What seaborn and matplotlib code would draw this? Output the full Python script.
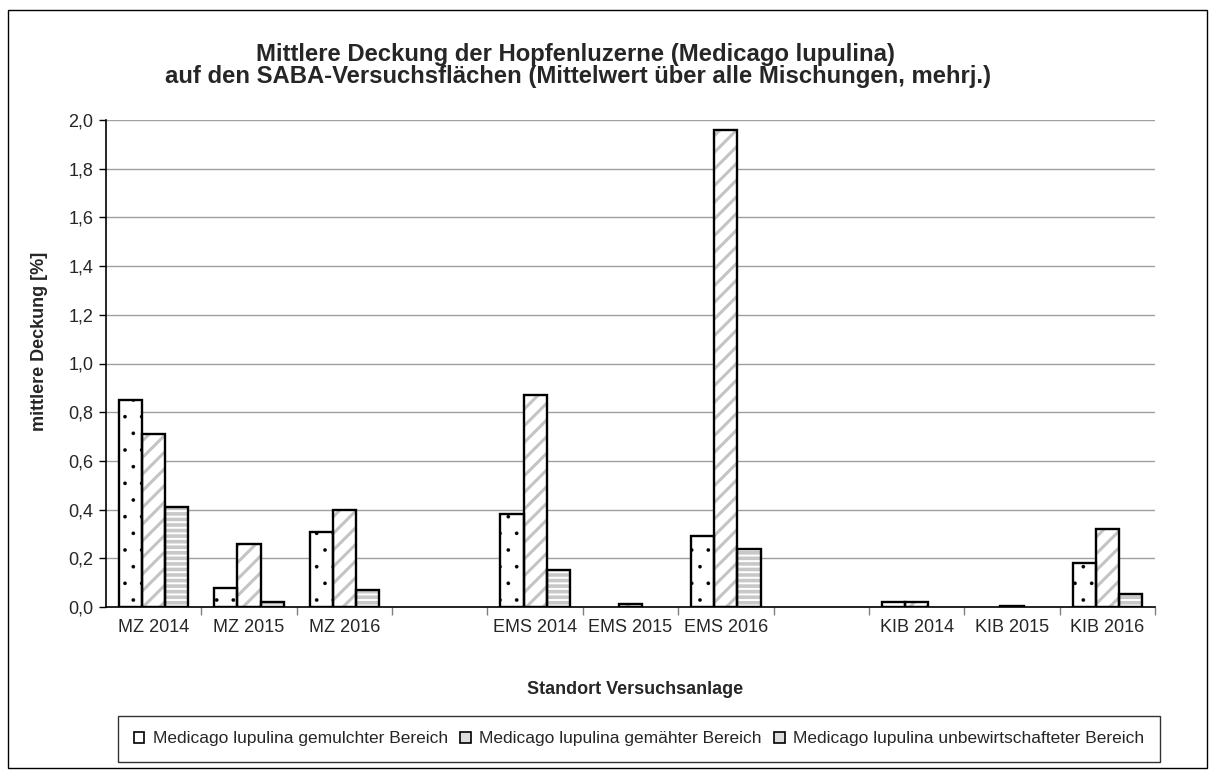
import matplotlib
matplotlib.use("Agg")
import matplotlib.pyplot as plt
import matplotlib.patches as mpatches
from matplotlib.ticker import FuncFormatter, FixedLocator
import seaborn as sns
import pandas as pd

# Daten
standorte = ["MZ 2014", "MZ 2015", "MZ 2016", " ", "EMS 2014", "EMS 2015", "EMS 2016",
             "  ", "KIB 2014", "KIB 2015", "KIB 2016"]
bereiche = ["Medicago lupulina gemulchter Bereich",
            "Medicago lupulina gemähter Bereich",
            "Medicago lupulina unbewirtschafteter Bereich"]
gemulcht = [0.85, 0.08, 0.31, None, 0.38, None, 0.29, None, 0.022, None, 0.18]
gemaeht = [0.71, 0.26, 0.40, None, 0.87, 0.012, 1.96, None, 0.022, 0.006, 0.32]
unbewirtschaftet = [0.41, 0.02, 0.07, None, 0.15, None, 0.24, None, None, None, 0.053]

rows = []
for name, werte in zip(bereiche, [gemulcht, gemaeht, unbewirtschaftet]):
    for s, v in zip(standorte, werte):
        if v is not None:
            rows.append({"standort": s, "bereich": name, "deckung": v})
df = pd.DataFrame(rows)

sns.set_style("white")
plt.rcParams["font.family"] = ["Liberation Sans", "DejaVu Sans"]
plt.rcParams["hatch.linewidth"] = 1.8

fig = plt.figure(figsize=(12.15, 7.76), dpi=100)
ax = fig.add_axes([106 / 1215, 1 - 607 / 776, 1049 / 1215, 487 / 776])

sns.barplot(data=df, x="standort", y="deckung", hue="bereich", order=standorte,
            hue_order=bereiche, width=0.73, palette=["white"] * 3, saturation=1,
            legend=False, ax=ax)

# Schraffur grau, Rahmen schwarz -> Rahmen als eigenes Rechteck drüberlegen
muster = [(".", "black", 0.2), ("//", "#c4c4c4", 2.2), ("---", "#c8c8c8", 2.6)]
for cont, (hatch, hcol, hlw) in zip(ax.containers, muster):
    for bar in cont:
        bar.set_facecolor("white")
        bar.set_edgecolor(hcol)
        bar.set_linewidth(0)
        bar.set_hatch(hatch)
        if hasattr(bar, "set_hatch_linewidth"):
            bar.set_hatch_linewidth(hlw)
        bar.set_zorder(2)
        ax.add_patch(mpatches.Rectangle((bar.get_x(), bar.get_y()), bar.get_width(),
                                        bar.get_height(), fill=False, edgecolor="black",
                                        linewidth=1.7, zorder=3))

ax.set_ylim(0, 2.0)
ax.set_xlim(-0.5, len(standorte) - 0.5)
ax.set_yticks([i * 0.2 for i in range(11)])
ax.yaxis.set_major_formatter(FuncFormatter(lambda v, p: f"{v:.1f}".replace(".", ",")))
ax.yaxis.grid(True, color="#a0a0a0", linewidth=1)
ax.set_axisbelow(True)

ax.xaxis.set_major_locator(FixedLocator([k + 0.5 for k in range(len(standorte))]))
ax.xaxis.set_minor_locator(FixedLocator(list(range(len(standorte)))))
ax.set_xticklabels([""] * len(standorte))
ax.set_xticklabels(standorte, minor=True)
ax.tick_params(axis="x", which="major", length=6, width=1, color="#808080", direction="out", bottom=True)
ax.tick_params(axis="x", which="minor", length=0, labelsize=13, pad=9)
ax.tick_params(axis="y", length=5, width=1, color="black", direction="out", left=True, labelsize=13, pad=4)

for side in ["top", "right"]:
    ax.spines[side].set_visible(False)
for side in ["left", "bottom"]:
    ax.spines[side].set_color("black")
    ax.spines[side].set_linewidth(1.2)

ax.set_xlabel("")
ax.set_ylabel("")
fig.text(40 / 1215, 1 - 341 / 776, "mittlere Deckung [%]", rotation=90, ha="center",
         va="center", fontsize=13, fontweight="bold")
fig.text(635 / 1215, 1 - 690 / 776, "Standort Versuchsanlage", ha="center", va="center",
         fontsize=13, fontweight="bold")
fig.text(576 / 1215, 1 - 54 / 776, "Mittlere Deckung der Hopfenluzerne (Medicago lupulina)",
         ha="center", va="center", fontsize=17.2, fontweight="bold")
fig.text(578 / 1215, 1 - 77 / 776,
         "auf den SABA-Versuchsflächen (Mittelwert über alle Mischungen, mehrj.)",
         ha="center", va="center", fontsize=17.2, fontweight="bold")

handles = [mpatches.Patch(facecolor=f, edgecolor="black", linewidth=1.2, label=b)
           for b, f in zip(bereiche, ["white", "#dcdcdc", "#dcdcdc"])]
fig.legend(handles=handles, loc="lower left", ncol=3, mode="expand",
           bbox_to_anchor=(118 / 1215, 14 / 776, 1042 / 1215, 45 / 776),
           frameon=True, fancybox=False, edgecolor="black", fontsize=12.5,
           handlelength=0.6, handleheight=0.6, handletextpad=0.5, columnspacing=1.5,
           borderaxespad=0, borderpad=0.9)

fig.add_artist(mpatches.Rectangle((8 / 1215, 8 / 776), 1199 / 1215, 758 / 776,
                                  transform=fig.transFigure, fill=False,
                                  edgecolor="black", linewidth=1))

fig.savefig("out.png", dpi=100, facecolor="white")
